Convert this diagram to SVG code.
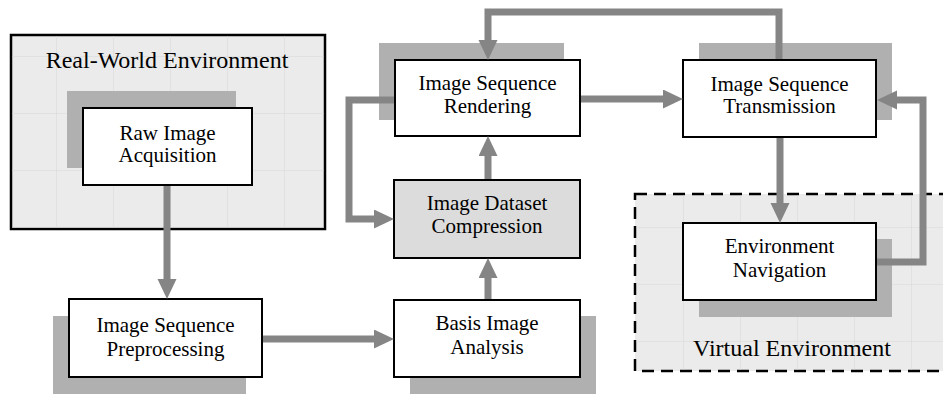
<svg xmlns="http://www.w3.org/2000/svg" width="943" height="394" viewBox="0 0 943 394">
<style>
.env{fill:#ebebeb;stroke:#000;stroke-width:2.5}
.grid{fill:url(#grid)}
.sh{fill:#b0b0b0}
.box{fill:#fff;stroke:#000;stroke-width:2}
.gray{fill:#dcdcdc}
.t{font-family:"Liberation Serif","Times New Roman",serif;font-size:21px;fill:#000;text-anchor:middle}
.title{font-size:24px}
.c{fill:none;stroke:#858585;stroke-width:7;stroke-linejoin:miter}
</style>
<defs>
<pattern id="grid" width="57" height="57" patternUnits="userSpaceOnUse">
<path d="M57 0V57M0 57H57" fill="none" stroke="#d6d6d6" stroke-width="1"/>
</pattern>
<marker id="ah" markerUnits="userSpaceOnUse" markerWidth="21" markerHeight="20" refX="0" refY="9.5" orient="auto">
<path d="M0,0 L20,9.5 L0,19 z" fill="#858585"/>
</marker>
</defs>
<g id="real-world-environment">
<rect class="env" x="11" y="35" width="314" height="194"/>
<rect class="grid" x="12" y="36" width="312" height="192"/>
<text class="t title" x="167" y="68">Real-World Environment</text>
</g>
<g id="virtual-environment">
<rect class="env" x="635" y="194" width="320" height="177" stroke-dasharray="12,7"/>
<rect class="grid" x="636" y="195" width="307" height="175"/>
<text class="t title" x="792" y="356">Virtual Environment</text>
</g>
<g id="raw-image-acquisition">
<rect class="sh" x="67" y="91" width="169" height="77"/>
<rect class="box" x="83" y="108" width="169" height="77"/>
<text class="t" x="167.5" y="140">Raw Image</text>
<text class="t" x="167.5" y="162">Acquisition</text>
</g>
<g id="image-sequence-preprocessing">
<rect class="sh" x="53" y="316" width="193" height="78"/>
<rect class="box" x="69" y="299" width="193" height="78"/>
<text class="t" x="165.5" y="332">Image Sequence</text>
<text class="t" x="165.5" y="356">Preprocessing</text>
</g>
<g id="basis-image-analysis">
<rect class="sh" x="410" y="316" width="186" height="78"/>
<rect class="box" x="394" y="300" width="186" height="77"/>
<text class="t" x="487" y="330">Basis Image</text>
<text class="t" x="487" y="354">Analysis</text>
</g>
<g id="image-dataset-compression">
<rect class="box gray" x="394" y="180" width="186" height="78"/>
<text class="t" x="487" y="210">Image Dataset</text>
<text class="t" x="487" y="233">Compression</text>
</g>
<g id="image-sequence-rendering">
<rect class="sh" x="379" y="43" width="185" height="77"/>
<rect class="box" x="395" y="60" width="185" height="76"/>
<text class="t" x="487.5" y="90">Image Sequence</text>
<text class="t" x="487.5" y="113">Rendering</text>
</g>
<g id="image-sequence-transmission">
<rect class="sh" x="699" y="43" width="193" height="77"/>
<rect class="box" x="683" y="60" width="193" height="77"/>
<text class="t" x="779.5" y="91">Image Sequence</text>
<text class="t" x="779.5" y="113">Transmission</text>
</g>
<g id="environment-navigation">
<rect class="sh" x="699" y="239" width="193" height="78"/>
<rect class="box" x="683" y="223" width="193" height="77"/>
<text class="t" x="779.5" y="253">Environment</text>
<text class="t" x="779.5" y="277">Navigation</text>
</g>
<g id="connectors">
<path class="c" d="M167,186 V279" marker-end="url(#ah)"/>
<path class="c" d="M263,339 H374" marker-end="url(#ah)"/>
<path class="c" d="M488,299 V278" marker-end="url(#ah)"/>
<path class="c" d="M488,179 V156" marker-end="url(#ah)"/>
<path class="c" d="M394,100 H349 V219 H374" marker-end="url(#ah)"/>
<path class="c" d="M581,99 H663" marker-end="url(#ah)"/>
<path class="c" d="M779,59 V12 H488 V40" marker-end="url(#ah)"/>
<path class="c" d="M780,138 V203" marker-end="url(#ah)"/>
<path class="c" d="M877,262 H923 V100 H897" marker-end="url(#ah)"/>
</g>
</svg>
